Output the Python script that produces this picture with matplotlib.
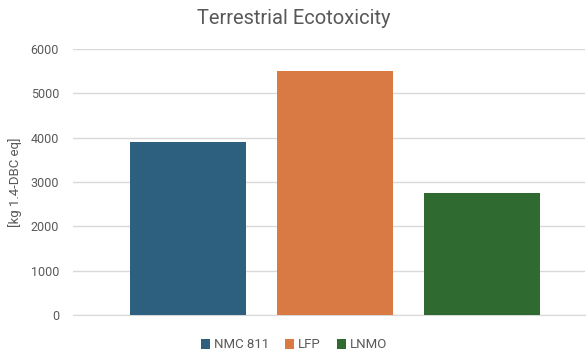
import numpy as np
import matplotlib.pyplot as plt

plt.rcParams['font.family'] = ['Roboto', 'DejaVu Sans']

series = ["NMC 811", "LFP", "LNMO"]
values = [3910, 5510, 2760]
colors = ["#2C607E", "#D97943", "#2F6B30"]
yticks = [0, 1000, 2000, 3000, 4000, 5000, 6000]

fig = plt.figure(figsize=(5.88, 3.54), dpi=100)
ax = fig.add_axes([73 / 588, 1 - 315 / 354, 512 / 588, 266 / 354])

x = np.arange(len(series))
for i in range(len(series)):
    ax.bar(x[i], values[i], width=0.79, color=colors[i], label=series[i], zorder=3)

ax.set_ylim(0, 6000)
ax.set_xlim(-0.78, 2.70)
ax.set_yticks(yticks)
ax.set_yticklabels([str(t) for t in yticks], fontsize=9, color="#595959")
ax.set_xticks([])
ax.tick_params(axis="y", length=0, pad=10)
ax.grid(axis="y", color="#D9D9D9", linewidth=1, zorder=0)
for s in ["top", "right", "left"]:
    ax.spines[s].set_visible(False)
ax.spines["bottom"].set_color("#D9D9D9")

ax.set_ylabel("[kg 1.4-DBC eq]", fontsize=9.5, color="#595959", labelpad=6)
fig.text(0.5, 1 - 18 / 354, "Terrestrial Ecotoxicity", ha="center", va="center",
         fontsize=14.5, color="#595959")

fig.legend(loc="center", bbox_to_anchor=(0.5, 1 - 345 / 354), ncol=3, frameon=False,
           fontsize=9.5, handlelength=0.7, handleheight=0.7, handletextpad=0.3,
           columnspacing=1.2, labelcolor="#595959")

fig.savefig("out.png", dpi=100)
